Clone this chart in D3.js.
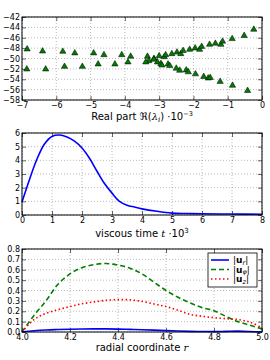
<!DOCTYPE html>
<html><head><meta charset="utf-8">
<script src="https://cdn.jsdelivr.net/npm/d3@7"></script>
<style>body{margin:0;background:#fff}svg{display:block}text{font-family:"DejaVu Sans",sans-serif}</style>
</head><body><svg id="c" width="270" height="360"></svg>
<script>
// Panel 1: eigenvalues (real part ×1e-3, imag part)
const eigUpperRe = [-6.85,-6.40,-5.81,-5.46,-4.91,-4.61,-4.09,-3.83,-3.34,-3.30,-3.15,-3.15,-3.00,-2.85,-2.81,-2.63,-2.48,-2.37,-2.30,-2.11,-1.95,-1.82,-1.76,-1.53,-1.36,-1.20,-1.15,-0.87,-0.52,-0.24];
const eigUpperIm = [-48.2,-48.6,-48.65,-48.96,-48.96,-49.3,-49.3,-49.6,-49.6,-50.45,-50.0,-50.2,-49.5,-49.7,-49.3,-49.1,-48.8,-49.1,-48.5,-48.27,-48.0,-48.27,-47.7,-47.3,-47.1,-47.3,-46.7,-46.2,-45.6,-44.4];
const eigLowerRe = [-6.86,-6.31,-5.76,-5.24,-4.78,-4.29,-3.91,-3.39,-3.05,-2.95,-2.92,-2.74,-2.69,-2.50,-2.40,-2.21,-2.15,-1.94,-1.70,-1.57,-1.51,-1.22,-0.86,-0.42];
const eigLowerIm = [-52.06,-52.06,-51.55,-51.55,-51.1,-51.1,-50.7,-50.7,-50.7,-51.0,-51.3,-51.1,-51.4,-51.9,-52.3,-52.25,-52.6,-53.0,-53.5,-53.8,-53.7,-54.45,-55.2,-56.2];
const p1XTicks = [-7,-6,-5,-4,-3,-2,-1,0];
const p1YTicks = [-58,-56,-54,-52,-50,-48,-46,-44,-42];

// Panel 2: energy vs viscous time
const timeT = [0,0.25,0.5,0.75,1.0,1.25,1.5,1.75,2.0,2.25,2.5,2.75,3.0,3.25,3.5,3.75,4,4.5,5,5.5,6,7,8];
const energyE = [0.95,2.6,4.1,5.2,5.75,5.85,5.7,5.4,4.9,4.15,3.2,2.3,1.6,1.0,0.72,0.58,0.45,0.27,0.14,0.11,0.09,0.07,0.05];
const p2XTicks = [0,1,2,3,4,5,6,7,8];
const p2YTicks = [0,1,2,3,4,5,6];

// Panel 3: velocity profiles
const radiusR = [4.0,4.05,4.1,4.15,4.2,4.25,4.3,4.35,4.4,4.45,4.5,4.55,4.6,4.65,4.7,4.75,4.8,4.85,4.9,4.95,5.0];
const uR   = [0,0.012,0.02,0.024,0.027,0.029,0.03,0.03,0.028,0.025,0.022,0.018,0.013,0.009,0.006,0.005,0.004,0.006,0.008,0.005,0];
const uPhi = [0,0.16,0.3,0.46,0.56,0.62,0.65,0.66,0.645,0.615,0.56,0.48,0.4,0.335,0.28,0.235,0.205,0.15,0.1,0.065,0.03];
const uZ   = [0,0.12,0.18,0.215,0.245,0.272,0.29,0.305,0.312,0.31,0.295,0.27,0.245,0.21,0.17,0.152,0.138,0.128,0.12,0.095,0.04];
const p3XTicks = [4.0,4.2,4.4,4.6,4.8,5.0];
const p3YTicks = [0,0.1,0.2,0.3,0.4,0.5,0.6,0.7,0.8];
const legendLabels = ["r","φ","z"];

const svg = d3.select("#c");
const L = 22, R = 262;

function panel(top, bottom, xDom, yDom, xTicks, yTicks, xFmt, yFmt) {
  const x = d3.scaleLinear().domain(xDom).range([L, R]);
  const y = d3.scaleLinear().domain(yDom).range([bottom, top]);
  const g = svg.append("g");
  g.selectAll(".gx").data(xTicks).enter().append("line")
    .attr("x1", d => x(d)).attr("x2", d => x(d)).attr("y1", top).attr("y2", bottom)
    .attr("stroke", "#000").attr("stroke-opacity", 0.45).attr("stroke-width", 0.6).attr("stroke-dasharray", "1,2");
  g.selectAll(".gy").data(yTicks).enter().append("line")
    .attr("y1", d => y(d)).attr("y2", d => y(d)).attr("x1", L).attr("x2", R)
    .attr("stroke", "#000").attr("stroke-opacity", 0.45).attr("stroke-width", 0.6).attr("stroke-dasharray", "1,2");
  const ax = g.append("g").attr("transform", `translate(0,${bottom})`)
    .call(d3.axisBottom(x).tickValues(xTicks).tickFormat(xFmt).tickSizeInner(-4).tickSizeOuter(0).tickPadding(2));
  const axT = g.append("g").attr("transform", `translate(0,${top})`)
    .call(d3.axisTop(x).tickValues(xTicks).tickFormat("").tickSizeInner(-4).tickSizeOuter(0));
  const ay = g.append("g").attr("transform", `translate(${L},0)`)
    .call(d3.axisLeft(y).tickValues(yTicks).tickFormat(yFmt).tickSizeInner(-4).tickSizeOuter(0).tickPadding(2));
  const ayR = g.append("g").attr("transform", `translate(${R},0)`)
    .call(d3.axisRight(y).tickValues(yTicks).tickFormat("").tickSizeInner(-4).tickSizeOuter(0));
  [ax, axT, ay, ayR].forEach(a => { a.select(".domain").remove(); a.selectAll("text").attr("font-size", 8).attr("fill", "#000").attr("font-family", "DejaVu Sans"); a.selectAll("line").attr("stroke","#000").attr("stroke-width",0.6); });
  ax.selectAll("text").attr("dy", "0.72em");
  return {x, y, g, top, bottom};
}

function frame(p) {
  svg.append("rect").attr("x", L).attr("y", p.top).attr("width", R - L).attr("height", p.bottom - p.top)
    .attr("fill", "none").attr("stroke", "#000").attr("stroke-width", 1);
}

// ---- Panel 1
const p1 = panel(17, 100, [-7, 0], [-58, -42], p1XTicks, p1YTicks, d3.format("d"), d3.format("d"));
const tri = d3.symbol().type(d3.symbolTriangle).size(17);
const pts = eigUpperRe.map((v, i) => [v, eigUpperIm[i]]).concat(eigLowerRe.map((v, i) => [v, eigLowerIm[i]]));
svg.append("g").selectAll("path").data(pts).enter().append("path")
  .attr("d", tri).attr("transform", d => `translate(${p1.x(d[0])},${p1.y(d[1])})`)
  .attr("fill", "#007a00").attr("stroke", "#000").attr("stroke-width", 0.5);
frame(p1);
const t1 = svg.append("text").attr("x", 142).attr("y", 119.5).attr("text-anchor", "middle").attr("font-size", 10);
t1.append("tspan").text("Real part ℜ(");
t1.append("tspan").attr("font-style", "italic").attr("font-family", "DejaVu Serif").text("λ");
t1.append("tspan").attr("font-style", "italic").attr("font-family", "DejaVu Serif").attr("font-size", 7).attr("dy", 2).text("i");
t1.append("tspan").attr("dy", -2).text(") ·10");
t1.append("tspan").attr("font-size", 6.5).attr("dy", -3.5).text("−3");

// ---- Panel 2
const p2 = panel(133, 215, [0, 8], [0, 6], p2XTicks, p2YTicks, d3.format("d"), d3.format("d"));
svg.append("path").datum(timeT.map((t, i) => [t, energyE[i]]))
  .attr("d", d3.line().x(d => p2.x(d[0])).y(d => p2.y(d[1])).curve(d3.curveCatmullRom))
  .attr("fill", "none").attr("stroke", "#0000ff").attr("stroke-width", 1.6);
frame(p2);
const t2 = svg.append("text").attr("x", 142).attr("y", 237).attr("text-anchor", "middle").attr("font-size", 10);
t2.append("tspan").text("viscous time ");
t2.append("tspan").attr("font-style", "italic").attr("font-family", "DejaVu Serif").text("t");
t2.append("tspan").text(" ·10");
t2.append("tspan").attr("font-size", 7).attr("dy", -4).text("3");

// ---- Panel 3
const p3 = panel(249, 332, [4.0, 5.0], [0, 0.8], p3XTicks, p3YTicks, d3.format(".1f"), d3.format(".1f"));
const series3 = [
  {v: uR, color: "#0000ff", dash: null},
  {v: uPhi, color: "#008000", dash: "5,3"},
  {v: uZ, color: "#ff0000", dash: "1.5,2.5"}
];
const line3 = d3.line().x(d => p3.x(d[0])).y(d => p3.y(d[1])).curve(d3.curveCatmullRom);
series3.forEach(s => {
  svg.append("path").datum(radiusR.map((r, i) => [r, s.v[i]]))
    .attr("d", line3).attr("fill", "none").attr("stroke", s.color).attr("stroke-width", 1.6)
    .attr("stroke-dasharray", s.dash);
});
frame(p3);
const lg = svg.append("g");
lg.append("rect").attr("x", 208).attr("y", 253).attr("width", 49).attr("height", 34)
  .attr("fill", "#fff").attr("stroke", "#000").attr("stroke-width", 0.8);
series3.forEach((s, i) => {
  const yy = 260 + i * 9.5;
  lg.append("line").attr("x1", 211).attr("x2", 229).attr("y1", yy).attr("y2", yy)
    .attr("stroke", s.color).attr("stroke-width", 1.6).attr("stroke-dasharray", s.dash);
  const tx = lg.append("text").attr("x", 233).attr("y", yy + 3).attr("font-size", 9).attr("font-family", "DejaVu Serif");
  tx.append("tspan").text("|");
  tx.append("tspan").attr("font-weight", "bold").text("u");
  tx.append("tspan").attr("font-style", "italic").attr("font-size", 6.5).attr("dy", 1.5).text(legendLabels[i]);
  tx.append("tspan").attr("dy", -1.5).text("|");
});
const t3 = svg.append("text").attr("x", 142).attr("y", 351).attr("text-anchor", "middle").attr("font-size", 10);
t3.append("tspan").text("radial coordinate ");
t3.append("tspan").attr("font-style", "italic").attr("font-family", "DejaVu Serif").text("r");
</script></body></html>
